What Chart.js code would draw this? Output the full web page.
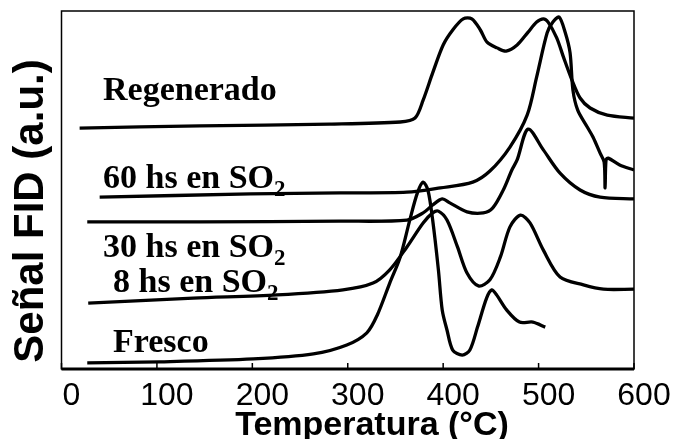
<!DOCTYPE html>
<html>
<head>
<meta charset="utf-8">
<script src="https://cdn.jsdelivr.net/npm/chart.js@4.4.1/dist/chart.umd.min.js"></script>
<style>
  html, body { margin: 0; padding: 0; background: #fff; }
  #wrap { width: 675px; height: 439px; }
</style>
</head>
<body>
<div id="wrap"><canvas id="c"></canvas></div>
<script>
// temperatures (°C) and FID signal (a.u.)
const regenT = [19, 145, 281, 355, 370.5, 379, 389, 400, 410, 421, 430, 439, 446, 456.5, 466, 477.5, 489, 498, 505, 510, 519, 526, 535, 543.5, 554, 572, 600];
const regenY = [67.3, 67.9, 68.4, 69.0, 70.1, 75.1, 82.7, 90.5, 94.7, 97.8, 97.8, 94.7, 91.3, 89.7, 88.8, 90.5, 94.1, 96.9, 97.8, 96.9, 92.5, 87.2, 80.7, 75.7, 72.9, 70.9, 70.1];

const h60T = [40, 198, 292, 362, 397, 431, 449, 470, 488, 498, 509, 515, 521.5, 528, 533, 536, 541, 551, 557, 564.5, 568.7, 569.7, 570.7, 573, 585, 600];
const h60Y = [48.0, 48.9, 49.2, 49.4, 50.6, 52.2, 55.3, 62.0, 70.9, 81.6, 93.9, 96.9, 98.3, 93.9, 88.3, 77.9, 72.3, 67.6, 64.8, 60.3, 57.8, 50.6, 58.4, 58.9, 57.0, 55.6];

const h30T = [27, 145, 292, 362, 379, 389, 399, 407, 425, 442, 452, 463, 472, 477.5, 489, 505, 522.5, 543.5, 564.5, 600];
const h30Y = [41.1, 41.1, 41.3, 41.6, 43.6, 45.8, 47.5, 46.4, 43.9, 43.6, 45.0, 50.0, 55.6, 58.4, 67.0, 61.2, 54.7, 50.0, 48.0, 47.5];

const h8T = [28, 138, 226, 295, 326.5, 344, 362, 379, 389, 395, 404, 415, 425, 437, 449, 460, 470, 481, 491, 505, 522.5, 547, 568, 600];
const h8Y = [18.4, 19.8, 20.7, 22.1, 24.0, 27.7, 34.1, 40.8, 43.6, 44.1, 41.6, 34.1, 26.8, 23.2, 24.9, 31.3, 39.7, 43.0, 40.8, 33.2, 25.7, 23.5, 22.3, 22.3];

const frescoT = [27, 103, 201, 264, 299, 320, 331, 344, 355, 365, 373, 379, 384, 389, 395, 399, 404, 410, 420, 428, 436, 445.5, 451, 456, 466.5, 480, 494, 507];
const frescoY = [1.7, 2.0, 2.8, 4.2, 6.7, 10.1, 15.1, 24.0, 31.3, 41.6, 49.2, 52.2, 50.0, 41.6, 27.7, 16.5, 10.9, 5.3, 3.9, 5.3, 11.7, 19.8, 22.1, 20.7, 16.5, 13.1, 13.1, 11.7];

const seriesNames = ["Regenerado", "60 hs en SO2", "30 hs en SO2", "8 hs en SO2", "Fresco"];
const xTicks = [0, 100, 200, 300, 400, 500, 600];

const toPts = (ts, ys) => ts.map((t, i) => ({ x: t, y: ys[i] }));
const allSeries = [
  toPts(regenT, regenY),
  toPts(h60T, h60Y),
  toPts(h30T, h30Y),
  toPts(h8T, h8Y),
  toPts(frescoT, frescoY),
];

// curve labels, anchored in data units (left edge, baseline)
const curveLabels = [
  { text: "Regenerado", sub: "", x: 43.5, y: 75.1 },
  { text: "60 hs en SO", sub: "2", x: 43.5, y: 50.6 },
  { text: "30 hs en SO", sub: "2", x: 43.5, y: 31.3 },
  { text: "8 hs en SO", sub: "2", x: 54, y: 21.5 },
  { text: "Fresco", sub: "", x: 54, y: 4.7 },
];

const decor = {
  id: "decor",
  afterDraw(chart) {
    const { ctx, chartArea: a, scales } = chart;
    const sx = scales.x, sy = scales.y;
    ctx.save();
    ctx.strokeStyle = "#000";
    // frame
    ctx.lineWidth = 1.5;
    ctx.strokeRect(a.left, a.top, a.right - a.left, a.bottom - a.top);
    ctx.lineWidth = 3;
    ctx.beginPath();
    ctx.moveTo(a.left, a.bottom);
    ctx.lineTo(a.right, a.bottom);
    ctx.stroke();
    // inward tick marks
    ctx.lineWidth = 1.5;
    xTicks.forEach(v => {
      const px = sx.getPixelForValue(v);
      ctx.beginPath();
      ctx.moveTo(px, a.bottom);
      ctx.lineTo(px, a.bottom - 6);
      ctx.stroke();
    });
    // curve labels
    ctx.fillStyle = "#000";
    ctx.textBaseline = "alphabetic";
    ctx.textAlign = "left";
    curveLabels.forEach(l => {
      const px = sx.getPixelForValue(l.x), py = sy.getPixelForValue(l.y);
      ctx.font = "bold 34px 'Liberation Serif', 'Times New Roman', serif";
      ctx.fillText(l.text, px, py);
      if (l.sub) {
        const w = ctx.measureText(l.text).width;
        ctx.font = "bold 23px 'Liberation Serif', 'Times New Roman', serif";
        ctx.fillText(l.sub, px + w, py + 8);
      }
    });
    // axis titles
    ctx.font = "bold 34px 'Liberation Sans', Arial, sans-serif";
    ctx.textAlign = "center";
    ctx.fillText("Temperatura (°C)", 372, 435);
    ctx.save();
    ctx.translate(43, 211);
    ctx.rotate(-Math.PI / 2);
    ctx.font = "bold 42px 'Liberation Sans', Arial, sans-serif";
    ctx.fillText("Señal FID (a.u.)", 0, 0);
    ctx.restore();
    ctx.restore();
  }
};

new Chart(document.getElementById("c"), {
  type: "line",
  data: {
    datasets: allSeries.map((pts, i) => ({
      label: seriesNames[i],
      data: pts,
      borderColor: "#000",
      backgroundColor: "transparent",
      borderWidth: 3.3,
      pointRadius: 0,
      tension: 0.3,
      fill: false,
    })),
  },
  options: {
    responsive: true,
    maintainAspectRatio: false,
    animation: false,
    layout: { padding: { top: 11, right: 41, left: 0, bottom: 0 } },
    plugins: { legend: { display: false }, tooltip: { enabled: false } },
    scales: {
      x: {
        type: "linear",
        min: 0,
        max: 600,
        afterBuildTicks: s => { s.ticks = xTicks.map(v => ({ value: v })); },
        afterFit: s => { s.height = 70; },
        grid: { display: false, drawTicks: false },
        border: { display: false },
        ticks: {
          color: "#000",
          padding: 8,
          labelOffset: 10,
          maxRotation: 0,
          font: { family: "'Liberation Sans', Arial, sans-serif", size: 32 },
        },
      },
      y: {
        min: 0,
        max: 100,
        afterFit: s => { s.width = 61.5; },
        grid: { display: false, drawTicks: false },
        border: { display: false },
        ticks: { display: false },
      },
    },
  },
  plugins: [decor],
});
</script>
</body>
</html>
